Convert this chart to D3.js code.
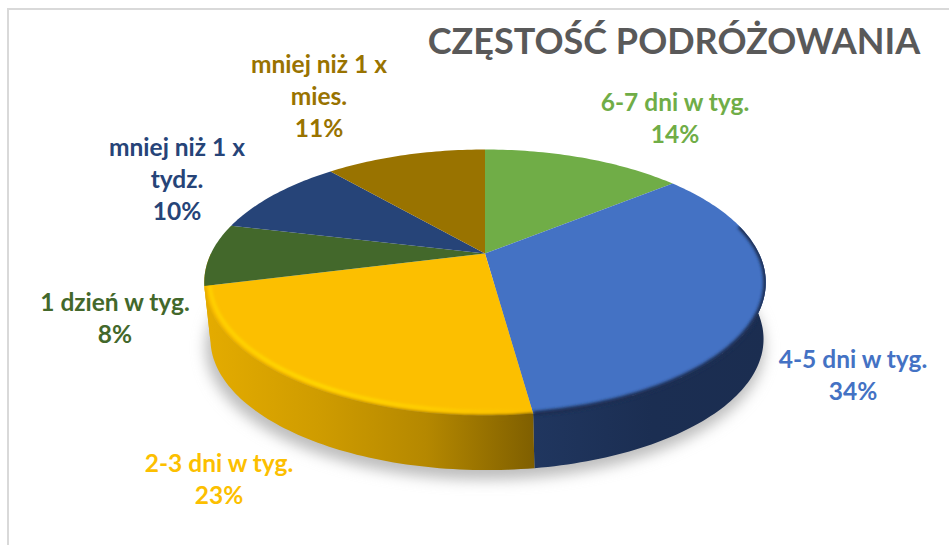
<!DOCTYPE html>
<html>
<head>
<meta charset="utf-8">
<script src="https://cdnjs.cloudflare.com/ajax/libs/d3/7.8.5/d3.min.js"></script>
<style>
    html, body { margin: 0; padding: 0; background: #fff; }
    svg { display: block; }
    text { font-family: Lato, "Open Sans", sans-serif; font-weight: 700; }
</style>
</head>
<body>
<svg id="chart" width="949" height="545"></svg>
<script>
var title = "CZĘSTOŚĆ PODRÓŻOWANIA";
var categories = [
    ["6-7 dni w tyg."],
    ["4-5 dni w tyg."],
    ["2-3 dni w tyg."],
    ["1 dzień w tyg."],
    ["mniej niż 1 x", "tydz."],
    ["mniej niż 1 x", "mies."]
];
var shares = [14.2, 33.6, 23.3, 7.6, 9.9, 11.4];
var colors = ["#70ad47", "#4472c4", "#fcbf00", "#43682b", "#264478", "#997300"];

// label layout, centre x and baseline of the first line
var labelX = [675, 853, 219, 115, 177, 319];
var labelY = [111, 368, 472, 311, 156, 73];
var LINE_HEIGHT = 32;

var width = 949, height = 545;
var svg = d3.select("#chart");
var defs = svg.append("defs");

// frame of the chart, runs off the right and bottom of the picture
svg.append("path")
    .attr("d", d3.line()([[8, height], [8, 9], [width, 9]]))
    .attr("fill", "none")
    .attr("stroke", "#d9d9d9")
    .attr("stroke-width", 2);

// perspective pie: the circle is projected so the apex sits above the ellipse centre
var TILT = 0.218;
var DEPTH = 57;
var WALL_SCALE = 0.985;
var WALL_SHIFT = 2;
var xScale = d3.scaleLinear().domain([-1, 1]).range([485 - 274, 485 + 274]);
var yScale = d3.scaleLinear().domain([-1, 1]).range([253.5 + 126.7, 253.5 - 126.7]);

function project(angle, shrink, drop) {
    var s = Math.sin(angle), c = Math.cos(angle), w = 1 + TILT * c;
    var x = xScale((s / w) * shrink);
    var y = yScale((c / w) * shrink);
    return [x, y + drop];
}

function sampleArc(a0, a1, shrink, drop) {
    var n = Math.max(2, Math.ceil(Math.abs(a1 - a0) / 0.02));
    var t = d3.scaleLinear().domain([0, n]).range([a0, a1]);
    return d3.range(n + 1).map(function(i) {
        return project(t(i), shrink, drop);
    });
}

var line = d3.line();
var arcs = d3.pie().sort(null).value(function(d) { return d; })(shares);

var blur = function(id, dev) {
    defs.append("filter")
        .attr("id", id)
        .attr("x", "-20%").attr("y", "-20%")
        .attr("width", "140%").attr("height", "140%")
        .append("feGaussianBlur")
        .attr("stdDeviation", dev);
};
blur("soft", 1.6);
blur("shadow", 7);

var gradient = function(id, x0, x1, stops) {
    var g = defs.append("linearGradient")
        .attr("id", id)
        .attr("gradientUnits", "userSpaceOnUse")
        .attr("x1", x0).attr("x2", x1)
        .attr("y1", 0).attr("y2", 0);
    stops.forEach(function(s, i) {
        g.append("stop")
            .attr("offset", i / (stops.length - 1))
            .attr("stop-color", s);
    });
};
gradient("wallYellow", 210, 534, ["#e3ab00", "#cf9c00", "#b58800", "#7f5f00"]);
gradient("wallBlue", 534, 770, ["#20365f", "#1b2e52", "#1b2d50"]);
gradient("glowYellow", 210, 530, ["#ffd400", "#ffdc00", "#ffd200", "#fcbf00"]);

// the wall under the yellow slice also wraps round the short left end
var wallFill = ["#1b2d50", "url(#wallBlue)", "url(#wallYellow)", "#e3ab00", "#192d50", "#665000"];

// soft shadow under the pie
svg.append("path")
    .attr("d", line(sampleArc(Math.PI * 0.4, Math.PI * 1.6, 0.995, DEPTH + 8)) + "Z")
    .attr("fill", "#bdbdbd")
    .attr("filter", "url(#shadow)");

// side wall, only the front half can be seen
var FRONT = [Math.PI / 2, Math.PI * 1.5];
function wallPath(d) {
    var a0 = Math.max(d.startAngle, FRONT[0]), a1 = Math.min(d.endAngle, FRONT[1]);
    var upper = sampleArc(a0, a1, 1, 0);
    var lower = sampleArc(a1, a0, WALL_SCALE, DEPTH).map(function(p) {
        return [p[0] + WALL_SHIFT, p[1]];
    });
    return line(upper.concat(lower)) + "Z";
}

svg.append("g").selectAll("path")
    .data(arcs)
    .enter()
    .filter(function(d) { return d.endAngle > FRONT[0] && d.startAngle < FRONT[1]; })
    .append("path")
    .attr("d", wallPath)
    .attr("fill", function(d) { return wallFill[d.index]; });

// top face
function slicePath(d) {
    var pts = [project(0, 0, 0)].concat(sampleArc(d.startAngle, d.endAngle, 1, 0));
    return line(pts) + "Z";
}

svg.append("g").selectAll("path")
    .data(arcs)
    .enter()
    .append("path")
    .attr("d", slicePath)
    .attr("fill", function(d) { return colors[d.index]; });

// bevel along the rim, clipped to slice plus wall so the slice ends stay sharp
[1, 2].forEach(function(i) {
    var clip = defs.append("clipPath").attr("id", "clip" + i);
    clip.append("path").attr("d", slicePath(arcs[i]));
    clip.append("path").attr("d", wallPath(arcs[i]));
});

var rim = svg.append("g");
rim.append("g").attr("clip-path", "url(#clip1)")
    .append("path")
    .attr("d", line(sampleArc(arcs[1].startAngle + 0.45, arcs[1].endAngle, 1, 0)))
    .attr("fill", "none")
    .attr("stroke", "#1b2e52")
    .attr("stroke-width", 5)
    .attr("filter", "url(#soft)");

var yellowRim = rim.append("g").attr("clip-path", "url(#clip2)");
yellowRim.append("path")
    .attr("d", line(sampleArc(arcs[2].startAngle, arcs[2].endAngle, 1, 1)))
    .attr("fill", "none")
    .attr("stroke", "url(#wallYellow)")
    .attr("stroke-width", 4)
    .attr("filter", "url(#soft)");
yellowRim.append("path")
    .attr("d", line(sampleArc(arcs[2].startAngle, arcs[2].endAngle, 0.98, -1)))
    .attr("fill", "none")
    .attr("stroke", "url(#glowYellow)")
    .attr("stroke-width", 3)
    .attr("filter", "url(#soft)");

// data labels
var fmt = d3.format(".0f");
var labels = svg.append("g").selectAll("text")
    .data(arcs)
    .enter()
    .append("text")
    .attr("text-anchor", "middle")
    .attr("font-size", 24.5)
    .attr("fill", function(d) { return colors[d.index]; });

labels.selectAll("tspan")
    .data(function(d) {
        return categories[d.index].concat(fmt(d.value) + "%").map(function(t) {
            return { text: t, index: d.index };
        });
    })
    .enter()
    .append("tspan")
    .attr("x", function(d) { return labelX[d.index]; })
    .attr("y", function(d, i) { return labelY[d.index] + i * LINE_HEIGHT; })
    .text(function(d) { return d.text; });

svg.append("text")
    .attr("x", 674)
    .attr("y", 54)
    .attr("text-anchor", "middle")
    .attr("font-size", 36)
    .attr("fill", "#595959")
    .text(title);
</script>
</body>
</html>
